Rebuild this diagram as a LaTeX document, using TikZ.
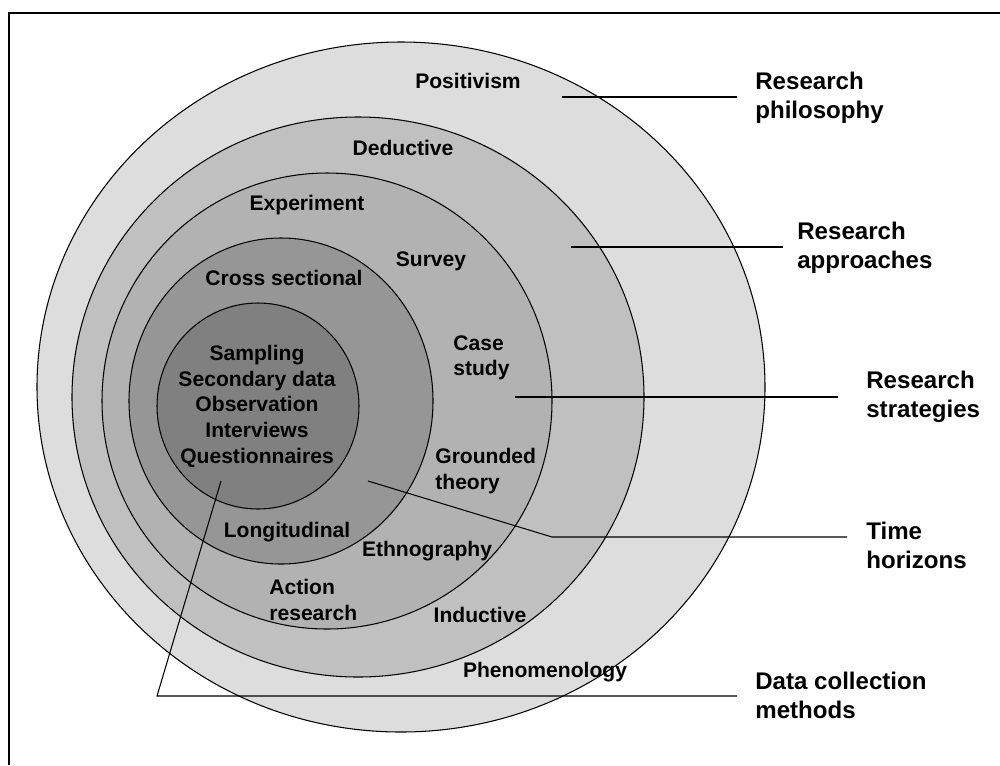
\documentclass[tikz,border=0pt]{standalone}
\usepackage{fontspec}
\setmainfont{Liberation Sans}
\usepackage{tikz}
\definecolor{shadeA}{HTML}{DDDDDD}
\definecolor{shadeB}{HTML}{C0C0C0}
\definecolor{shadeC}{HTML}{B2B2B2}
\definecolor{shadeD}{HTML}{969696}
\definecolor{shadeE}{HTML}{808080}
\def\ring{\draw[line width=0.6pt]}
\def\lead{\draw[line width=0.6pt]}

\begin{document}
\begin{tikzpicture}[x=0.02cm,y=-0.02cm,
    inlab/.style={inner sep=0pt,align=center,font=\fontsize{12}{14.6}\selectfont\bfseries},
    outlab/.style={inner sep=0pt,anchor=north west,align=left,font=\fontsize{13.7}{16.5}\selectfont\bfseries}]
\useasboundingbox (0,0) rectangle (1000,765);
\draw[line width=0.7pt] (9,765) -- (9,13) -- (1000,13);

% the onion, outside in
\ring[fill=shadeA] (401,387) ellipse [x radius=364, y radius=345];
\ring[fill=shadeB] (358,397) ellipse [x radius=286, y radius=280];
\ring[fill=shadeC] (327,401) ellipse [x radius=225, y radius=228];
\ring[fill=shadeD] (281,401) ellipse [x radius=152, y radius=163];
\ring[fill=shadeE] (258,406) ellipse [x radius=101, y radius=103];

% ring texts
\node[inlab,anchor=north] (positivism) at (468,73) {Positivism};
\node[inlab,anchor=north] (deductive) at (403,140) {Deductive};
\node[inlab,anchor=north] (experiment) at (307,195) {Experiment};
\node[inlab,anchor=north] (survey) at (431,251) {Survey};
\node[inlab,anchor=north] (crosssec) at (284,270) {Cross sectional};
\node[inlab,anchor=north west,align=left] (casestudy) at (453,335) {Case\\study};
\node[inlab,anchor=north] (methods) at (257,345)
    {Sampling\\Secondary data\\Observation\\Interviews\\Questionnaires};
\node[inlab,anchor=north west,align=left] (grounded) at (435,448) {Grounded\\theory};
\node[inlab,anchor=north] (longit) at (287,522) {Longitudinal};
\node[inlab,anchor=north] (ethno) at (427,541) {Ethnography};
\node[inlab,anchor=north west,align=left] (action) at (269,579) {Action\\research};
\node[inlab,anchor=north] (inductive) at (480,607) {Inductive};
\node[inlab,anchor=north] (phenom) at (545,662) {Phenomenology};

% layer names on the right
\node[outlab] (lPhil) at (755,72) {Research\\philosophy};
\node[outlab] (lAppr) at (797,222) {Research\\approaches};
\node[outlab] (lStrat) at (866,371) {Research\\strategies};
\node[outlab] (lTime) at (866,522) {Time\\horizons};
\node[outlab] (lData) at (755,672) {Data collection\\methods};

\coordinate (cPhil) at (562,97);
\coordinate (cAppr) at (571,247);
\coordinate (cStrat) at (515,397);
\coordinate (cTime) at (368,481);
\coordinate (bTime) at (552,537);
\coordinate (cData) at (221,481);
\coordinate (bData) at (157,696);

\lead[shorten >=0.36cm] (cPhil) -- (cPhil -| lPhil.west);
\lead[shorten >=0.28cm] (cAppr) -- (cAppr -| lAppr.west);
\lead[shorten >=0.56cm] (cStrat) -- (cStrat -| lStrat.west);
\lead[shorten >=0.38cm] (cTime) -- (bTime) -- (bTime -| lTime.west);
\lead[shorten >=0.36cm] (cData) -- (bData) -- (bData -| lData.west);
\end{tikzpicture}
\end{document}
